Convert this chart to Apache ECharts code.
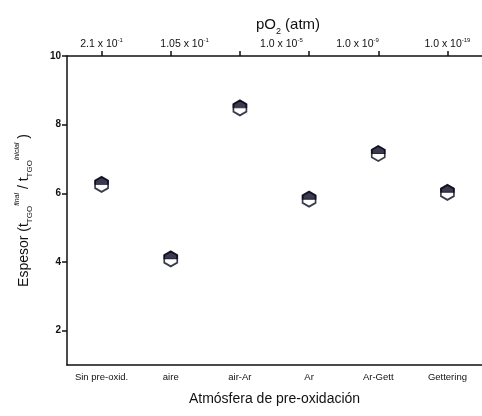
<!DOCTYPE html>
<html>
<head>
<meta charset="utf-8">
<script src="https://cdn.jsdelivr.net/npm/echarts@6/dist/echarts.min.js"></script>
<style>
  html, body { margin: 0; padding: 0; background: #fff; }
  #chart { width: 482px; height: 416px; }
</style>
</head>
<body>
<div id="chart"></div>
<script>
// atmosphere categories (bottom axis) and measured thickness ratio
const categories = ['Sin pre-oxid.', 'aire', 'air-Ar', 'Ar', 'Ar-Gett', 'Gettering'];
const espesor = [6.26, 4.09, 8.49, 5.83, 7.16, 6.03];
const yTicks = [2, 4, 6, 8, 10];

// top pO2 axis: tick positions (category index) and label positions/texts
const topTicks = [0, 1, 2, 3, 4, 5];
const topLabelPos = [0, 1.2, 2.6, 3.7, 5];
const topLabels = [
  '2.1 x 10{e|-1}',
  '1.05 x 10{e|-1}',
  '1.0 x 10{e|-5}',
  '1.0 x 10{e|-9}',
  '1.0 x 10{e|-19}'
];

const FONT = '"Liberation Sans", Arial, sans-serif';
const INK = '#111';
const MARK = '#0a0a20';

// pointy-top hexagon and its upper half
const hexPath = 'path://M0,-1L0.866,-0.5L0.866,0.5L0,1L-0.866,0.5L-0.866,-0.5Z';
const halfHexPath = 'path://M0,-1L0.866,-0.5L0.866,0L-0.866,0L-0.866,-0.5Z';

const chart = echarts.init(document.getElementById('chart'));

chart.setOption({
  animation: false,
  backgroundColor: '#ffffff',
  title: {
    text: 'pO{s|2} (atm)',
    left: 283,
    top: 9,
    textAlign: 'center',
    textStyle: {
      fontFamily: FONT,
      fontSize: 15,
      fontWeight: 'normal',
      color: INK,
      lineHeight: 22,
      rich: {
        s: { fontFamily: FONT, fontSize: 9, verticalAlign: 'bottom', lineHeight: 22, color: INK }
      }
    }
  },
  grid: { left: 67, top: 56, width: 421, height: 309 },
  xAxis: [
    {
      type: 'category',
      data: categories,
      position: 'bottom',
      name: 'Atmósfera de pre-oxidación',
      nameLocation: 'middle',
      nameGap: 27,
      nameTextStyle: { fontFamily: FONT, fontSize: 14, color: INK },
      axisLine: { onZero: false, lineStyle: { color: INK, width: 1.5 } },
      axisTick: { alignWithLabel: true, length: 5, lineStyle: { color: INK, width: 1.5 } },
      axisLabel: { fontFamily: FONT, fontSize: 9.5, color: INK, margin: 7, interval: 0 },
      splitLine: { show: false }
    },
    {
      type: 'value',
      position: 'top',
      min: -0.5,
      max: 5.5,
      axisLine: { onZero: false, lineStyle: { color: INK, width: 1.5 } },
      axisTick: { customValues: topTicks, length: 5, lineStyle: { color: INK, width: 1.5 } },
      axisLabel: {
        customValues: topLabelPos,
        fontFamily: FONT,
        fontSize: 10.5,
        color: INK,
        margin: 5,
        formatter: (v) => {
          let best = 0;
          topLabelPos.forEach((p, i) => {
            if (Math.abs(p - v) < Math.abs(topLabelPos[best] - v)) best = i;
          });
          return topLabels[best];
        },
        rich: {
          e: { fontFamily: FONT, fontSize: 6, verticalAlign: 'top', lineHeight: 14, color: INK }
        }
      },
      splitLine: { show: false }
    }
  ],
  yAxis: {
    type: 'value',
    min: 1,
    max: 10,
    name: '{b|Espesor (t}{sub|TGO}{sup|final}{b| / t}{sub|TGO}{sup|inicial}{b| )}',
    nameLocation: 'middle',
    nameGap: 33,
    nameTextStyle: {
      fontFamily: FONT,
      color: INK,
      rich: {
        b: { fontFamily: FONT, fontSize: 14, color: INK, lineHeight: 20 },
        sub: { fontFamily: FONT, fontSize: 8, color: INK, verticalAlign: 'bottom', lineHeight: 20 },
        sup: { fontFamily: FONT, fontSize: 7, fontStyle: 'italic', color: INK, verticalAlign: 'top', lineHeight: 20 }
      }
    },
    axisLine: { show: true, onZero: false, lineStyle: { color: INK, width: 1.5 } },
    axisTick: { show: true, customValues: yTicks, length: 5, lineStyle: { color: INK, width: 1.5 } },
    axisLabel: {
      customValues: yTicks,
      fontFamily: FONT,
      fontSize: 10,
      fontWeight: 'bold',
      color: INK,
      margin: 6
    },
    splitLine: { show: false }
  },
  series: [
    {
      type: 'scatter',
      data: espesor,
      symbol: hexPath,
      symbolSize: [13, 15],
      itemStyle: { color: '#ffffff', borderColor: MARK, borderWidth: 1.8 },
      z: 2
    },
    {
      type: 'scatter',
      data: espesor,
      symbol: halfHexPath,
      symbolSize: [13, 7.5],
      symbolOffset: [0, -3.75],
      itemStyle: { color: MARK, borderColor: MARK, borderWidth: 1.2 },
      z: 3
    }
  ]
});
</script>
</body>
</html>
